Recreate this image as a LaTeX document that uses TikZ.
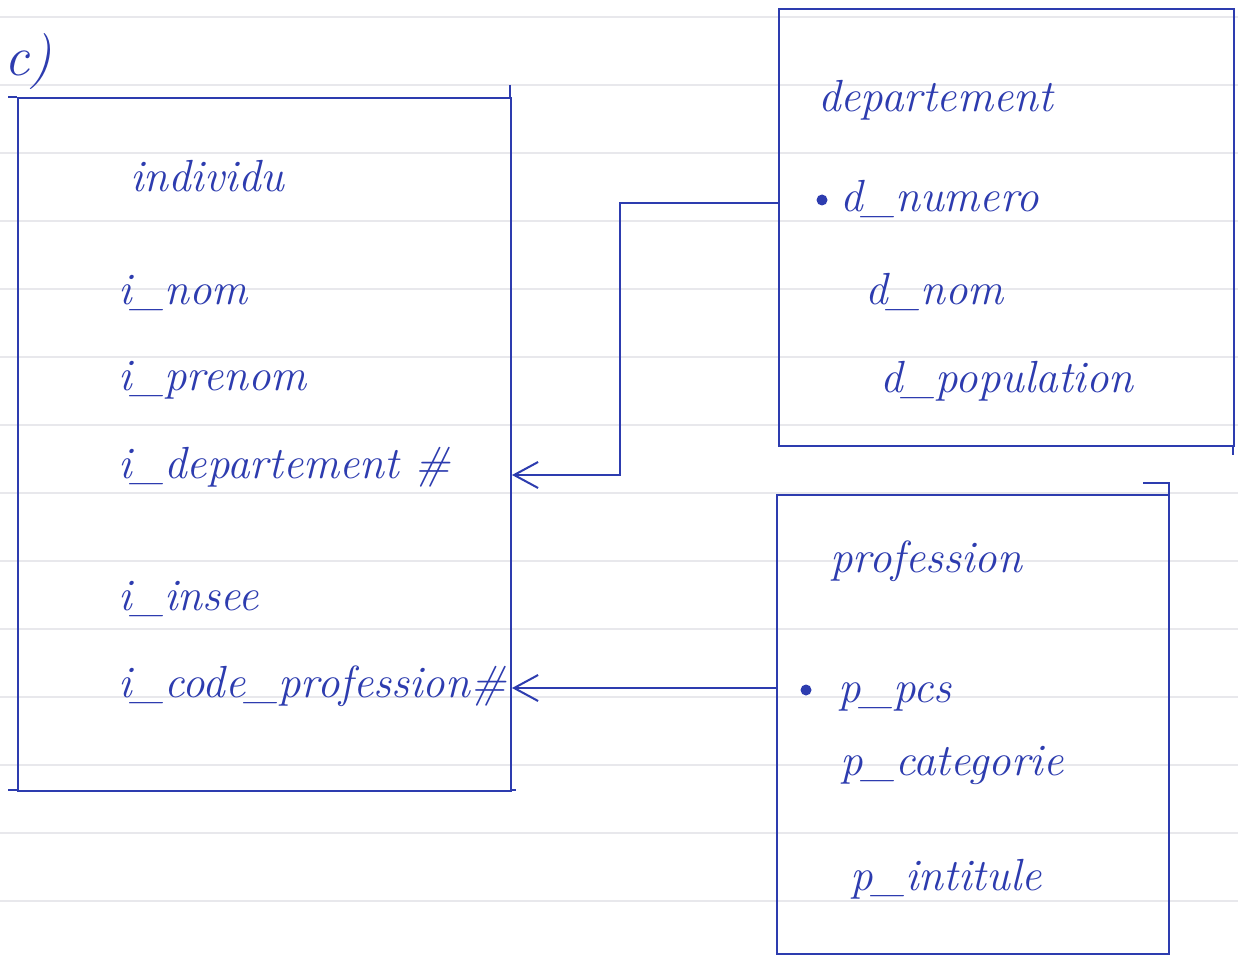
\documentclass[tikz,border=0pt]{standalone}
\usetikzlibrary{arrows.meta,calc}
\definecolor{pen}{RGB}{45,60,175}
\definecolor{ruling}{RGB}{232,232,236}
\begin{document}
\begin{tikzpicture}[x=1pt,y=-1pt,
  pen/.style={draw=pen,line width=2pt},
  box/.style={pen, rectangle, inner sep=0pt, anchor=north west},
  attr/.style={text=pen, anchor=base west, inner sep=0pt, font=\fontsize{45}{52}\selectfont\itshape},
  keydot/.style={circle, fill=pen, minimum size=11pt, inner sep=0pt},
  fk/.style={pen, -{Straight Barb[length=24pt,width=26pt,line width=2pt]}}
]
\useasboundingbox (0,0) rectangle (1238,957);
\fill[white] (0,0) rectangle (1238,957);
\foreach \y in {17,85,...,957} \draw[ruling, line width=1.2pt] (0,\y) -- (1238,\y);

% label
\node[attr, font=\fontsize{56}{60}\selectfont\itshape] (lbl) at (4,76) {c)};

% boxes
\node[box, minimum width=493pt, minimum height=693pt] (ind) at (17,97) {};
\node[box, minimum width=455pt, minimum height=437pt] (dep) at (778,8) {};
\node[box, minimum width=392pt, minimum height=459pt] (prof) at (776,494) {};

% overshoots of the hand-drawn frames
\draw[pen] (8,97) -- (17,97);
\draw[pen] (510,85) -- (510,97);
\draw[pen] (8,790) -- (17,790);
\draw[pen] (510,790) -- (516,790);
\draw[pen] (1233,445) -- (1233,455);
\draw[pen] (1143,483) -- (1169,483) -- (1169,494);

% individu
\node[attr] (indt) at (130,192) {individu};
\node[attr] (inom) at (118,305) {i\_nom};
\node[attr] (ipre) at (118,390) {i\_prenom};
\node[attr] (idep) at (118,478) {i\_departement \#};
\node[attr] (iins) at (118,610) {i\_insee};
\node[attr] (icod) at (118,697) {i\_code\_profession\#};

% departement
\node[attr] (dept) at (818,112) {departement};
\node[keydot] (k1) at (822,200) {};
\node[attr] (dnum) at (840,212) {d\_numero};
\node[attr] (dnom) at (865,305) {d\_nom};
\node[attr] (dpop) at (880,392) {d\_population};

% profession
\node[attr] (proft) at (830,572) {profession};
\node[keydot] (k2) at (806,690) {};
\node[attr] (ppcs) at (838,702) {p\_pcs};
\node[attr] (pcat) at (840,775) {p\_categorie};
\node[attr] (pint) at (850,890) {p\_intitule};

% connectors
\draw[fk] ($(dep.west |- dnum.base)+(0,-9)$) -- ++(-158,0) |- ($(ind.east |- idep.base)+(0,-3)$);
\draw[fk] ($(prof.west |- ppcs.base)+(0,-14)$) -- ($(ind.east |- ppcs.base)+(0,-14)$);
\end{tikzpicture}
\end{document}
